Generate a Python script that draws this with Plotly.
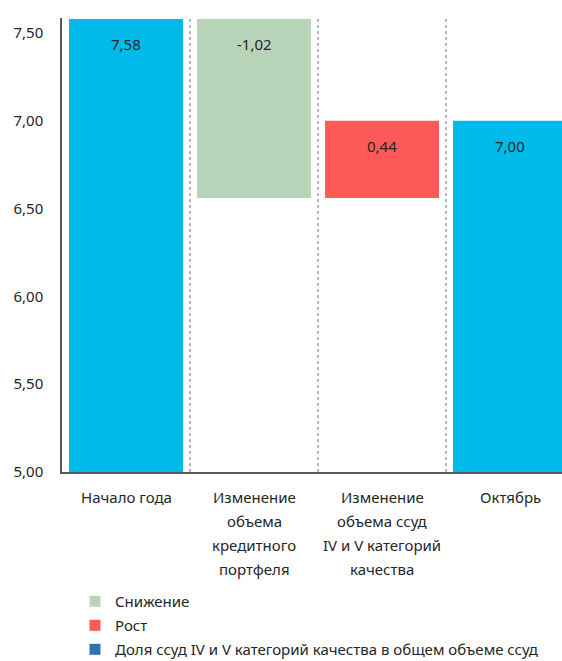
import plotly.graph_objects as go

# ---- data ----
categories = ["Начало года",
              "Изменение<br>объема<br>кредитного<br>портфеля",
              "Изменение<br>объема ссуд<br>IV и V категорий<br>качества",
              "Октябрь"]
values = [7.58, -1.02, 0.44, 7.00]
measures = ["absolute", "relative", "relative", "total"]
value_labels = ["7,58", "-1,02", "0,44", "7,00"]
legend_names = ["Снижение", "Рост", "Доля ссуд IV и V категорий качества в общем объеме ссуд"]
legend_colors = ["#B7D4B9", "#FF5A5A", "#2E75B6"]

C_TOTAL = "#00B9EB"
C_DEC = "#B7D4B9"
C_INC = "#FF5A5A"
FONT = "Noto Sans"
TXT = "#262626"

x_idx = list(range(len(categories)))

fig = go.Figure()
fig.add_trace(go.Waterfall(
    x=x_idx, y=values, measure=measures,
    increasing=dict(marker=dict(color=C_INC)),
    decreasing=dict(marker=dict(color=C_DEC)),
    totals=dict(marker=dict(color=C_TOTAL)),
    connector=dict(visible=False),
    showlegend=False, hoverinfo="skip",
))

for i, (nm, col) in enumerate(zip(legend_names, legend_colors)):
    fig.add_trace(go.Scatter(
        x=[None], y=[None], mode="markers", name=nm,
        marker=dict(symbol="square", size=11, color=col),
        legendgroup=f"g{i}", showlegend=True,
    ))

# bar tops (for value labels)
cum = 0
tops = []
for v, m in zip(values, measures):
    prev = cum
    if m == "absolute":
        cum = v
        tops.append(v)
    elif m == "relative":
        cum = cum + v
        tops.append(max(prev, cum))
    else:
        tops.append(cum)

annotations = []
for i, (t, lab) in enumerate(zip(tops, value_labels)):
    annotations.append(dict(x=i, y=t, xref="x", yref="y", text=lab, showarrow=False,
                            yanchor="middle", yshift=-25,
                            font=dict(family=FONT, size=15, color=TXT)))
for i, cat in enumerate(categories):
    for j, line in enumerate(cat.split("<br>")):
        annotations.append(dict(x=i, y=0, xref="x", yref="paper", text=line, showarrow=False,
                                yanchor="middle", yshift=-25 - 24 * j,
                                font=dict(family=FONT, size=15, color=TXT)))

YMIN, YMAX = 5.0, 7.585
shapes = []
for b in [i + 0.5 for i in range(len(categories) - 1)]:
    shapes.append(dict(type="line", x0=b, x1=b, y0=YMIN, y1=YMAX, xref="x", yref="y",
                       line=dict(color="#A0A0A0", width=1.5, dash="dot"), layer="below"))

fig.update_layout(
    width=562, height=661,
    margin=dict(l=62, r=0, t=18, b=189, autoexpand=False),
    paper_bgcolor="white", plot_bgcolor="white",
    separators=", ",
    waterfallgap=0.11,
    font=dict(family=FONT, size=15, color=TXT),
    xaxis=dict(range=[-0.5, 3.406], showticklabels=False, showgrid=False, zeroline=False,
               showline=True, linecolor="#595959", linewidth=1.5, ticks=""),
    yaxis=dict(range=[YMIN, YMAX], tickvals=[5.0, 5.5, 6.0, 6.5, 7.0, 7.5], tickformat=".2f",
               showgrid=False, zeroline=False, showline=True, linecolor="#595959", linewidth=1.5,
               ticks="", ticklabelstandoff=14, tickfont=dict(family=FONT, size=15, color=TXT)),
    legend=dict(x=0.026, xanchor="left", y=-0.249, yanchor="top", orientation="v",
                tracegroupgap=1.5, font=dict(family=FONT, size=15, color=TXT),
                bgcolor="rgba(0,0,0,0)"),
    annotations=annotations, shapes=shapes,
)

fig.write_html("out.html")
